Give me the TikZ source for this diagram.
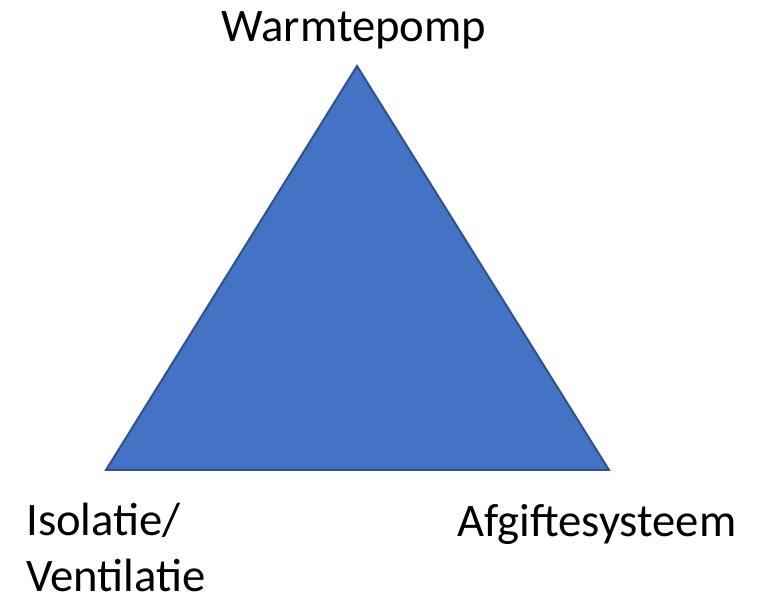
\documentclass[tikz,border=0pt]{standalone}
\usepackage{fontspec}
\setmainfont{Carlito}
\usepackage{tikz}

\definecolor{pompblue}{HTML}{4472C4}
\definecolor{pompedge}{HTML}{2F528F}

\begin{document}
\begin{tikzpicture}[
  x=0.75pt, y=-0.75pt,
  label/.style={inner sep=0pt, font=\fontsize{35pt}{42.75pt}\selectfont, align=left},
  triangle/.style={draw=pompedge, fill=pompblue, line width=1.5pt, line join=miter}
]
\useasboundingbox (0,0) rectangle (768,598);

\coordinate (top) at (357,66);
\coordinate (left) at (106,470);
\coordinate (right) at (609,470);

\path [triangle] (top) -- (left) -- (right) -- cycle;

\node [label, anchor=base] (pomp) at (354,42) {Warmtepomp};
\node [label, anchor=base west] (isol) at (26,536) {Isolatie/};
\node [label, anchor=base west] (vent) at (26,591) {Ventilatie};
\node [label, anchor=base] (afgifte) at (597,537) {Afgiftesysteem};

\end{tikzpicture}
\end{document}
